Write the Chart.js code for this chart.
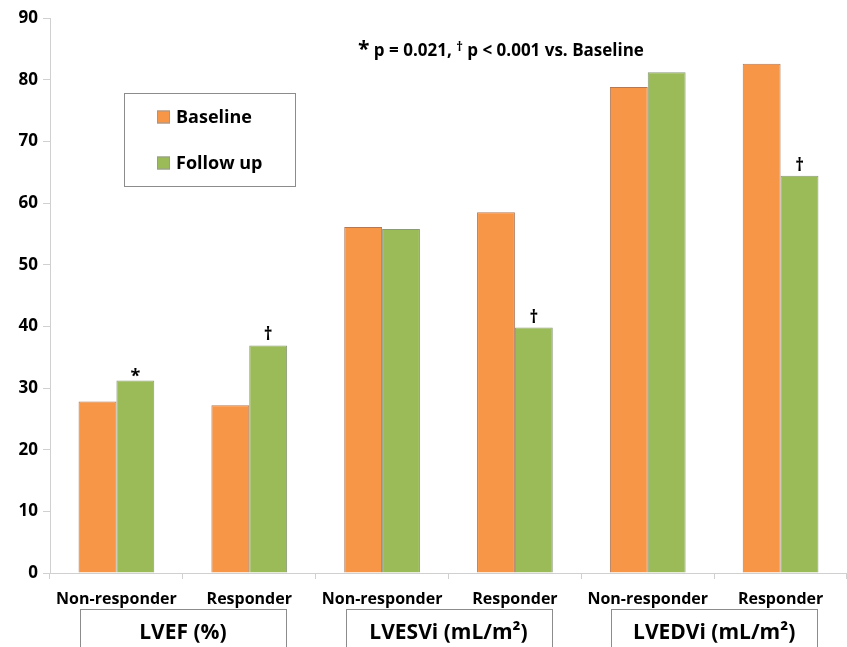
<!DOCTYPE html>
<html>
<head>
<meta charset="utf-8">
<script src="https://cdn.jsdelivr.net/npm/chart.js@4.4.0/dist/chart.umd.min.js"></script>
<style>
html,body{margin:0;padding:0;background:#fff;}
#wrap{width:847px;height:647px;position:relative;}
</style>
</head>
<body>
<div id="wrap"><canvas id="c" width="847" height="647"></canvas></div>
<script>
// ---- data ----
const categories = ['Non-responder','Responder','Non-responder','Responder','Non-responder','Responder'];
const groups = ['LVEF (%)','LVESVi (mL/m²)','LVEDVi (mL/m²)'];
const baseline = [27.8, 27.2, 56.1, 58.5, 78.8, 82.6];
const followUp = [31.2, 36.9, 55.8, 39.8, 81.2, 64.4];
const followMarkers = ['*', '†', '', '†', '', '†'];
const seriesNames = ['Baseline','Follow up'];
const yTicks = [0,10,20,30,40,50,60,70,80,90];
const noteText = ['*', ' p = 0.021, ', '†', ' p < 0.001 vs. Baseline'];

const FONT = '"Open Sans", "Liberation Sans", sans-serif';
const ORANGE = '#F79646';
const GREEN = '#9BBB59';

const extras = {
  id: 'extras',
  afterDraw(chart) {
    const ctx = chart.ctx;
    const xs = chart.scales.x;
    ctx.save();
    // significance markers
    const meta = chart.getDatasetMeta(1);
    ctx.fillStyle = '#000';
    ctx.textAlign = 'center';
    ctx.textBaseline = 'alphabetic';
    meta.data.forEach((bar, i) => {
      const m = followMarkers[i];
      if (!m) return;
      if (m === '*') {
        ctx.font = 'bold 18px ' + FONT;
        ctx.fillText(m, bar.x, bar.y + 1);
      } else {
        ctx.font = 'bold 17px ' + FONT;
        ctx.fillText(m, bar.x, bar.y - 5);
      }
    });
    // group boxes
    ctx.strokeStyle = '#8c8c8c';
    ctx.lineWidth = 1;
    ctx.font = 'bold 21px ' + FONT;
    ctx.textBaseline = 'middle';
    groups.forEach((g, gi) => {
      const a = xs.getPixelForValue(gi * 2);
      const b = xs.getPixelForValue(gi * 2 + 1);
      const cx = (a + b) / 2;
      const w = 206;
      ctx.strokeRect(Math.round(cx - w / 2) + 0.5, 609.5, w, 60);
      ctx.fillText(g, cx, 633);
    });
    // legend box
    ctx.strokeRect(124.5, 93.5, 171, 93);
    const colors = [ORANGE, GREEN];
    const ys = [117, 163];
    ctx.textAlign = 'left';
    ctx.font = 'bold 18px ' + FONT;
    seriesNames.forEach((n, i) => {
      ctx.fillStyle = colors[i];
      ctx.fillRect(157, ys[i] - 6.5, 13, 13);
      ctx.strokeStyle = '#999';
      ctx.strokeRect(157.5, ys[i] - 6, 12, 12);
      ctx.fillStyle = '#000';
      ctx.fillText(n, 176, ys[i] + 1);
    });
    // note text
    let x = 358;
    const y = 50;
    noteText.forEach((t) => {
      if (t === '*') {
        ctx.font = 'bold 21px ' + FONT;
        ctx.fillText(t, x, y);
      } else if (t === '†') {
        ctx.font = 'bold 13px ' + FONT;
        ctx.fillText(t, x, y - 3);
      } else {
        ctx.font = 'bold 17px ' + FONT;
        ctx.fillText(t, x, y + 1);
      }
      x += ctx.measureText(t).width;
    });
    ctx.restore();
  }
};

new Chart(document.getElementById('c'), {
  type: 'bar',
  data: {
    labels: categories,
    datasets: [
      { label: seriesNames[0], data: baseline, backgroundColor: ORANGE, borderColor: '#b07a5a', borderWidth: 1 },
      { label: seriesNames[1], data: followUp, backgroundColor: GREEN, borderColor: '#8a9a7a', borderWidth: 1 }
    ]
  },
  options: {
    responsive: false,
    animation: false,
    layout: { padding: { top: 18, right: 0, left: 0, bottom: 0 } },
    plugins: { legend: { display: false }, tooltip: { enabled: false } },
    datasets: { bar: { categoryPercentage: 0.57, barPercentage: 1.0 } },
    scales: {
      x: {
        grid: { drawOnChartArea: false, drawTicks: true, tickLength: 6, color: '#d0d0d0', offset: true },
        border: { color: '#d0d0d0' },
        ticks: { color: '#000', font: { family: FONT, size: 16, weight: 'bold' }, padding: 11, maxRotation: 0, autoSkip: false },
        afterFit(s) { s.height = 74; }
      },
      y: {
        min: 0, max: 90,
        afterBuildTicks(s) { s.ticks = yTicks.map(v => ({ value: v })); },
        grid: { drawOnChartArea: false, drawTicks: true, tickLength: 7, color: '#d0d0d0' },
        border: { color: '#d0d0d0' },
        ticks: { color: '#000', font: { family: FONT, size: 17, weight: 'bold' }, padding: 5 },
        afterFit(s) { s.width = 50; }
      }
    }
  },
  plugins: [extras]
});
</script>
</body>
</html>
